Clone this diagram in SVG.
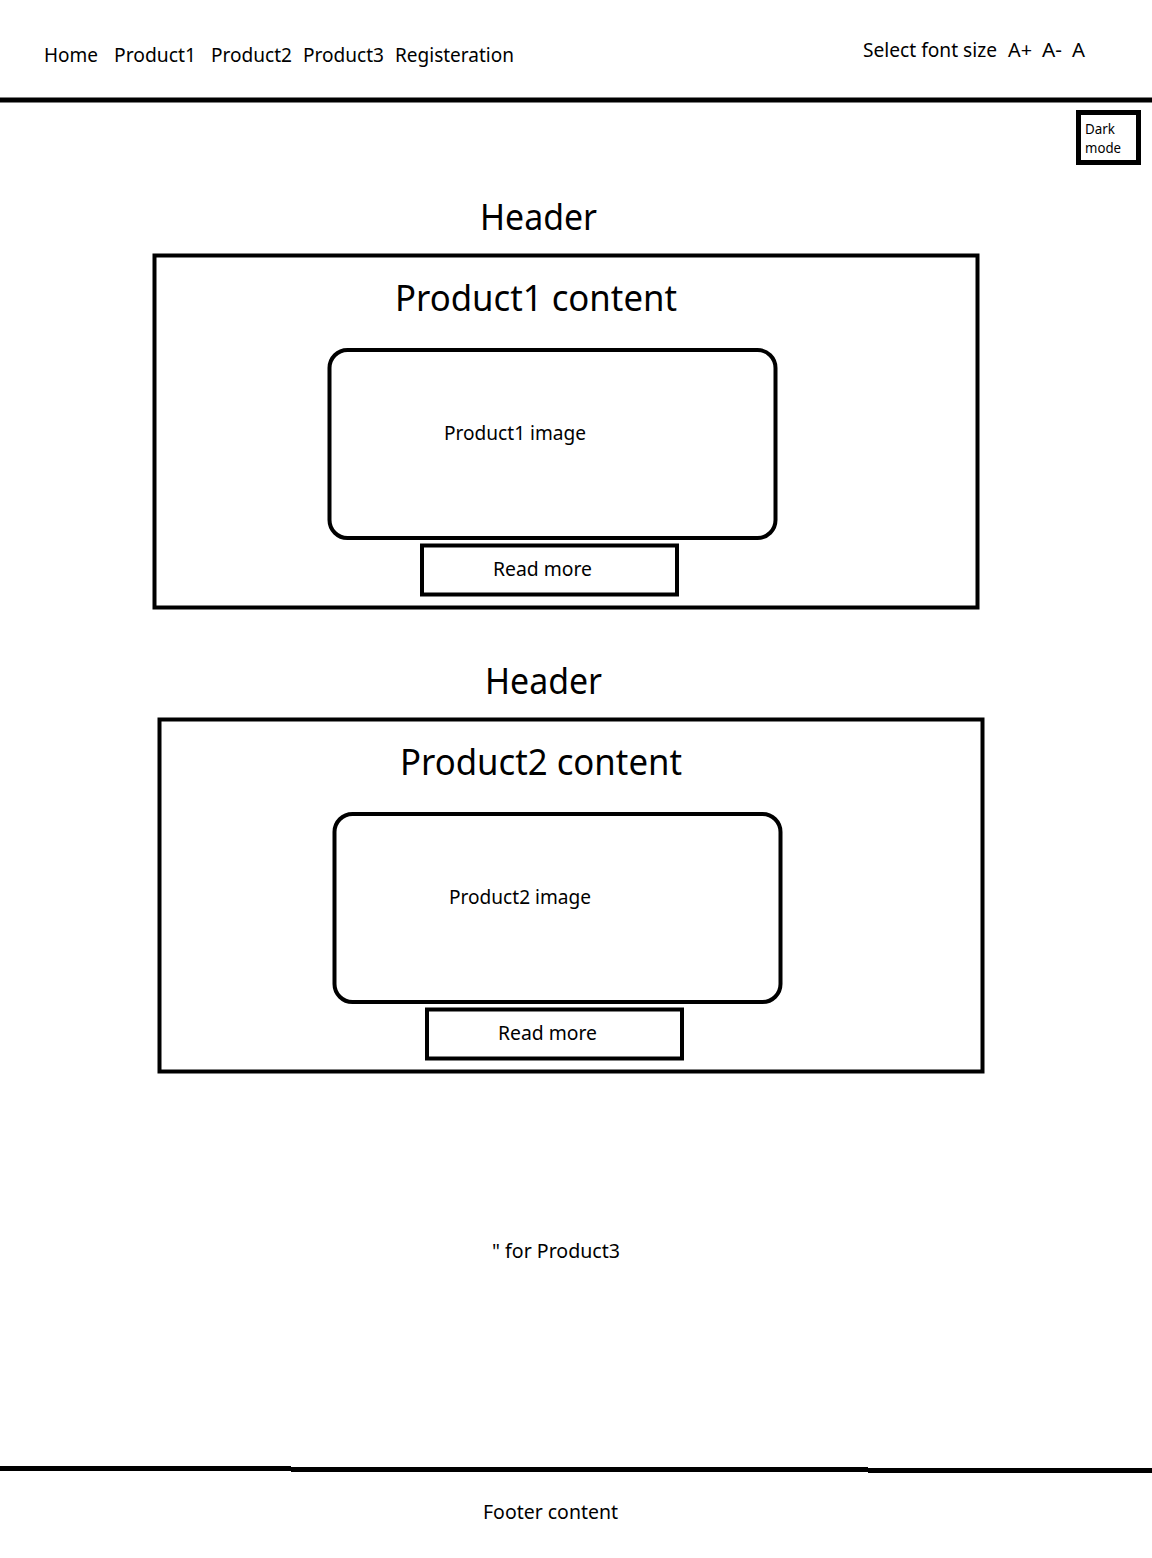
<svg xmlns="http://www.w3.org/2000/svg" width="1152" height="1558" viewBox="0 0 1152 1558">
<style>
text{font-family:"Noto Sans","Open Sans","Liberation Sans",sans-serif;fill:#000}
.nav{font-size:19.5px}
.big{font-size:36px}
.mid{font-size:19.5px}
.sm{font-size:14px}
.box{fill:none;stroke:#000;stroke-width:4}
.line{stroke:#000;stroke-width:5}
</style>
<rect width="1152" height="1558" fill="#fff"/>
<g id="nav">
<text class="nav" x="44" y="62" textLength="54" lengthAdjust="spacingAndGlyphs">Home</text>
<text class="nav" x="114" y="62" textLength="82" lengthAdjust="spacingAndGlyphs">Product1</text>
<text class="nav" x="211" y="62" textLength="81" lengthAdjust="spacingAndGlyphs">Product2</text>
<text class="nav" x="303" y="62" textLength="81" lengthAdjust="spacingAndGlyphs">Product3</text>
<text class="nav" x="395" y="62" textLength="119" lengthAdjust="spacingAndGlyphs">Registeration</text>
</g>
<g id="fontsize">
<text class="nav" x="863" y="57" textLength="134" lengthAdjust="spacingAndGlyphs">Select font size</text>
<text class="nav" x="1008" y="57" textLength="24" lengthAdjust="spacingAndGlyphs">A+</text>
<text class="nav" x="1042" y="57" textLength="20" lengthAdjust="spacingAndGlyphs">A-</text>
<text class="nav" x="1072" y="57" textLength="13" lengthAdjust="spacingAndGlyphs">A</text>
</g>
<line class="line" x1="0" y1="100" x2="1152" y2="100"/>
<g id="darkmode">
<rect x="1078.5" y="112.5" width="60" height="50" style="fill:none;stroke:#000;stroke-width:5"/>
<text class="sm" x="1085" y="134" textLength="30" lengthAdjust="spacingAndGlyphs">Dark</text>
<text class="sm" x="1085" y="153" textLength="36" lengthAdjust="spacingAndGlyphs">mode</text>
</g>
<g id="product1">
<text class="big" x="480" y="230" textLength="117" lengthAdjust="spacingAndGlyphs">Header</text>
<rect class="box" x="154.5" y="255.5" width="823" height="352"/>
<text class="big" x="395" y="311" textLength="282" lengthAdjust="spacingAndGlyphs">Product1 content</text>
<rect class="box" x="329.5" y="350" width="446" height="188" rx="18"/>
<text class="mid" x="444" y="440" textLength="142" lengthAdjust="spacingAndGlyphs">Product1 image</text>
<rect class="box" x="422" y="545.5" width="255" height="49"/>
<text class="mid" x="493" y="576" textLength="99" lengthAdjust="spacingAndGlyphs">Read more</text>
</g>
<g id="product2">
<text class="big" x="485" y="694" textLength="117" lengthAdjust="spacingAndGlyphs">Header</text>
<rect class="box" x="159.5" y="719.5" width="823" height="352"/>
<text class="big" x="400" y="775" textLength="282" lengthAdjust="spacingAndGlyphs">Product2 content</text>
<rect class="box" x="334.5" y="814" width="446" height="188" rx="18"/>
<text class="mid" x="449" y="904" textLength="142" lengthAdjust="spacingAndGlyphs">Product2 image</text>
<rect class="box" x="427" y="1009.5" width="255" height="49"/>
<text class="mid" x="498" y="1040" textLength="99" lengthAdjust="spacingAndGlyphs">Read more</text>
</g>
<g id="product3">
<text class="mid" x="492" y="1258" textLength="128" lengthAdjust="spacingAndGlyphs">" for Product3</text>
</g>
<g id="footer">
<line class="line" x1="0" y1="1468.5" x2="291" y2="1468.5"/>
<line class="line" x1="291" y1="1469.5" x2="868" y2="1469.5"/>
<line class="line" x1="868" y1="1470.5" x2="1152" y2="1470.5"/>
<text class="mid" x="483" y="1519" textLength="135" lengthAdjust="spacingAndGlyphs">Footer content</text>
</g>
<g id="connectors"/>
</svg>
